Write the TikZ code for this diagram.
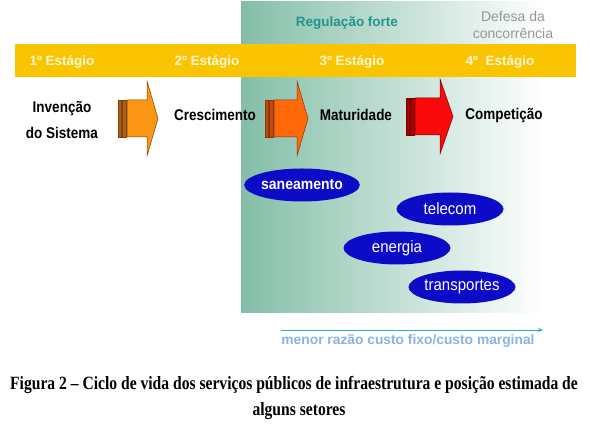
\documentclass[tikz,border=0pt]{standalone}
\usepackage{fontspec}
\setmainfont{Liberation Serif}
\setsansfont{Liberation Sans}
\usepackage{xcolor}
\usetikzlibrary{shapes.geometric, arrows.meta}

\definecolor{bandyellow}{RGB}{250,196,0}
\definecolor{bandtext}{RGB}{255,248,215}
\definecolor{regteal}{RGB}{132,190,168}
\definecolor{regtext}{RGB}{30,150,140}
\definecolor{defgray}{RGB}{150,150,150}
\definecolor{sectorblue}{RGB}{12,12,200}
\definecolor{costcyan}{RGB}{40,175,200}
\definecolor{costtext}{RGB}{135,180,225}
\definecolor{orangeA}{RGB}{250,150,20}
\definecolor{orangeAdark}{RGB}{175,95,20}
\definecolor{orangeB}{RGB}{255,105,10}
\definecolor{orangeBdark}{RGB}{195,75,10}
\definecolor{redC}{RGB}{250,10,10}
\definecolor{redCdark}{RGB}{170,0,0}

% slightly taller lettering
\newcommand{\tallt}[2][1.15]{\scalebox{1}[#1]{#2}}

% striped block arrow: left x, head base x, tip x, top of body, fill, stripe colour
\newcommand{\stagearrow}[6]{%
  \pgfmathsetmacro{\ybot}{#4+37}
  \pgfmathsetmacro{\ymid}{#4+18.5}
  \pgfmathsetmacro{\yhtop}{#4-19}
  \pgfmathsetmacro{\yhbot}{#4+56}
  \fill[#6,draw=#6!70!black,line width=0.4pt] (#1,#4) rectangle ++(3,37);
  \fill[#6,draw=#6!70!black,line width=0.4pt] (#1+4,#4) rectangle ++(4,37);
  \filldraw[fill=#5,draw=#6!70!black,line width=0.5pt]
    (#1+9,#4) -- (#2,#4) -- (#2,\yhtop) -- (#3,\ymid) -- (#2,\yhbot)
    -- (#2,\ybot) -- (#1+9,\ybot) -- cycle;
}

\begin{document}
\begin{tikzpicture}[x=1pt,y=-1pt,
  stagelabel/.style={font=\sffamily\bfseries\fontsize{13.5}{15}\selectfont, text=bandtext, inner sep=0pt},
  phaselabel/.style={font=\sffamily\bfseries\fontsize{13.5}{26}\selectfont, align=center, inner sep=0pt},
  sector/.style={ellipse, fill=sectorblue, minimum width=107pt, minimum height=33pt, inner sep=0pt, text=white, font=\sffamily\fontsize{15}{17}\selectfont},
  caption/.style={font=\rmfamily\bfseries\fontsize{15.6}{18}\selectfont, inner sep=0pt}]
\useasboundingbox (0,0) rectangle (590,427);

% regulated area
\shade[left color=regteal, right color=white] (241,2) rectangle (545,313);

% stage band
\fill[bandyellow] (15,44) rectangle (576,77);
\node[stagelabel] (s1) at (62,62) {1º Estágio};
\node[stagelabel] (s2) at (207,62) {2º Estágio};
\node[stagelabel] (s3) at (352,62) {3º Estágio};
\node[stagelabel] (s4) at (500,62) {4º\ \ Estágio};

\node[font=\sffamily\bfseries\fontsize{13.5}{15}\selectfont, text=regtext] (reg) at (347,23) {Regulação forte};
\node[font=\sffamily\fontsize{14}{17}\selectfont, text=defgray, align=center] (def) at (513,25) {Defesa da\\concorrência};

% phases
\node[phaselabel] (p1) at (62,120) {\tallt{Invenção}\\\tallt{do Sistema}};
\node[phaselabel] (p2) at (215,115) {\tallt{Crescimento}};
\node[phaselabel] (p3) at (356,115) {\tallt{Maturidade}};
\node[phaselabel] (p4) at (504,115) {\tallt{Competição}};

\stagearrow{118}{147}{158}{100}{orangeA}{orangeAdark}
\stagearrow{265}{297}{308}{100}{orangeB}{orangeBdark}
\stagearrow{406}{440}{453}{98}{redC}{redCdark}

% sectors
\node[sector, font=\sffamily\bfseries\fontsize{14}{17}\selectfont] (san) at (302,185) {\tallt[1.1]{saneamento}};
\node[sector] (tel) at (450,209) {\tallt[1.1]{telecom}};
\node[sector] (ene) at (397,248) {\tallt[1.1]{energia}};
\node[sector] (tra) at (462,287) {\tallt[1.1]{transportes}};

% cost axis
\coordinate (c0) at (281,330);
\coordinate (c1) at (543,330);
\draw[costcyan, line width=0.8pt, -{Stealth[length=5pt,width=4pt]}] (c0) -- (c1);
\node[font=\sffamily\bfseries\fontsize{13.8}{15}\selectfont, text=costtext] (cost) at (408,341) {menor razão custo fixo/custo marginal};

% caption
\node[caption] (cap1) at (294,385) {\tallt[1.2]{Figura 2 -- Ciclo de vida dos serviços públicos de infraestrutura e posição estimada de}};
\node[caption] (cap2) at (299,411) {\tallt[1.2]{alguns setores}};
\end{tikzpicture}
\end{document}
